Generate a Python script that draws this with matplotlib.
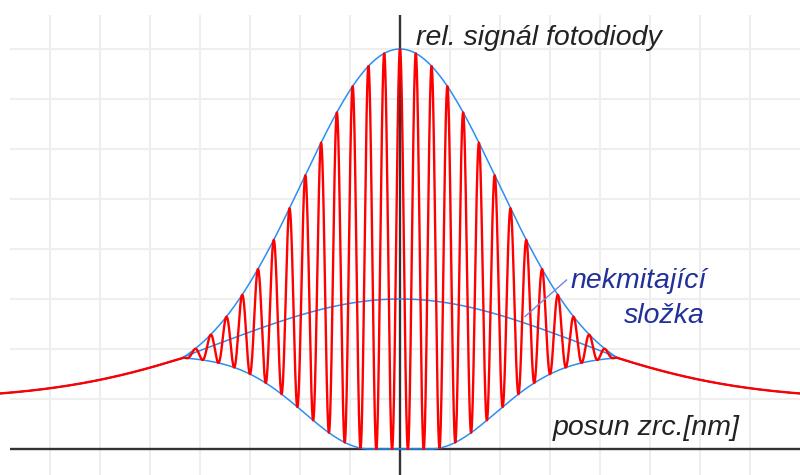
import numpy as np
import matplotlib.pyplot as plt

# interferogram of the photodiode signal, in grid units (one cell = 1)
signal_peak = 8.0        # top of the fringe envelope at zero path difference
dc_peak = 3.0            # top of the non-oscillating component
tail_offset = 1.0        # level the far tails settle to
tail_height = 1.91
tail_sigma = 3.35
fringe_halfwidth = 4.35  # fringes die out beyond this shift
fringe_period = 0.316
upper_width2 = 11.0
lower_start = 0.6        # lower envelope sits on zero up to here
lower_width = 1.87

y_label = "rel. signál fotodiody"
x_label = "posun zrc.[nm]"
dc_label = ["nekmitající", "složka"]

u = np.linspace(-8, 8, 16001)
au = np.abs(u)
W = fringe_halfwidth

tail = tail_offset + tail_height * np.exp(-u**2 / (2 * tail_sigma**2))
tail0 = tail_offset + tail_height
tail_edge = tail_offset + tail_height * np.exp(-W**2 / (2 * tail_sigma**2))
taper = np.where(au < W, np.cos(np.pi * u / (2 * W)), 0.0)

upper = tail + (signal_peak - tail0) * np.exp(-u**2 / upper_width2) * taper
dc = tail + (dc_peak - tail0) * np.sqrt(taper)

rise = 1 - np.exp(-(np.clip(au - lower_start, 0, None) / lower_width)**2)
rise_edge = 1 - np.exp(-((W - lower_start) / lower_width)**2)
lower = np.where(au < W, tail_edge * rise / rise_edge, tail)

signal = lower + (upper - lower) * (1 + np.cos(2 * np.pi * u / fringe_period)) / 2

fig = plt.figure(figsize=(8, 4.75), dpi=100)
ax = fig.add_axes([0, 0, 1, 1])
ax.set_xlim(-8, 8)
ax.set_ylim(-0.52, 8.98)
ax.axis('off')

# background grid
grid_kw = dict(color='#eeeeee', lw=1.5, zorder=0)
for k in range(-7, 8):
    if k != 0:
        ax.vlines(k, -0.52, 8.68, **grid_kw)
for j in range(1, 9):
    ax.hlines(j, -7.8, 8, **grid_kw)

# axes
ax.hlines(0, -7.8, 8, color='#333333', lw=1.7, zorder=1)
ax.vlines(0, -0.52, 8.68, color='#333333', lw=1.7, zorder=1)

blue = '#2b8ef0'
ax.plot(u, upper, color=blue, lw=1.1, zorder=2)
ax.plot(u, lower, color=blue, lw=1.1, zorder=2)
ax.plot(u, dc, color=blue, lw=1.1, zorder=2)
ax.plot(u, signal, color='#ff0000', lw=1.7, zorder=3)

font = dict(family='Liberation Sans', style='italic', fontsize=20.5)
ax.text(0.32, 8.08, y_label, color='#222222', va='baseline', **font)
ax.text(3.06, 0.28, x_label, color='#222222', va='baseline', **font)
ax.text(6.14, 3.22, dc_label[0], color='#22309a', va='baseline', ha='right', **font)
ax.text(6.1, 2.52, dc_label[1], color='#22309a', va='baseline', ha='right', **font)
ax.plot([3.33, 2.5], [3.38, 2.65], color='#6f86dd', lw=1.0, zorder=4)

fig.savefig('out.png', dpi=100, facecolor='white')
